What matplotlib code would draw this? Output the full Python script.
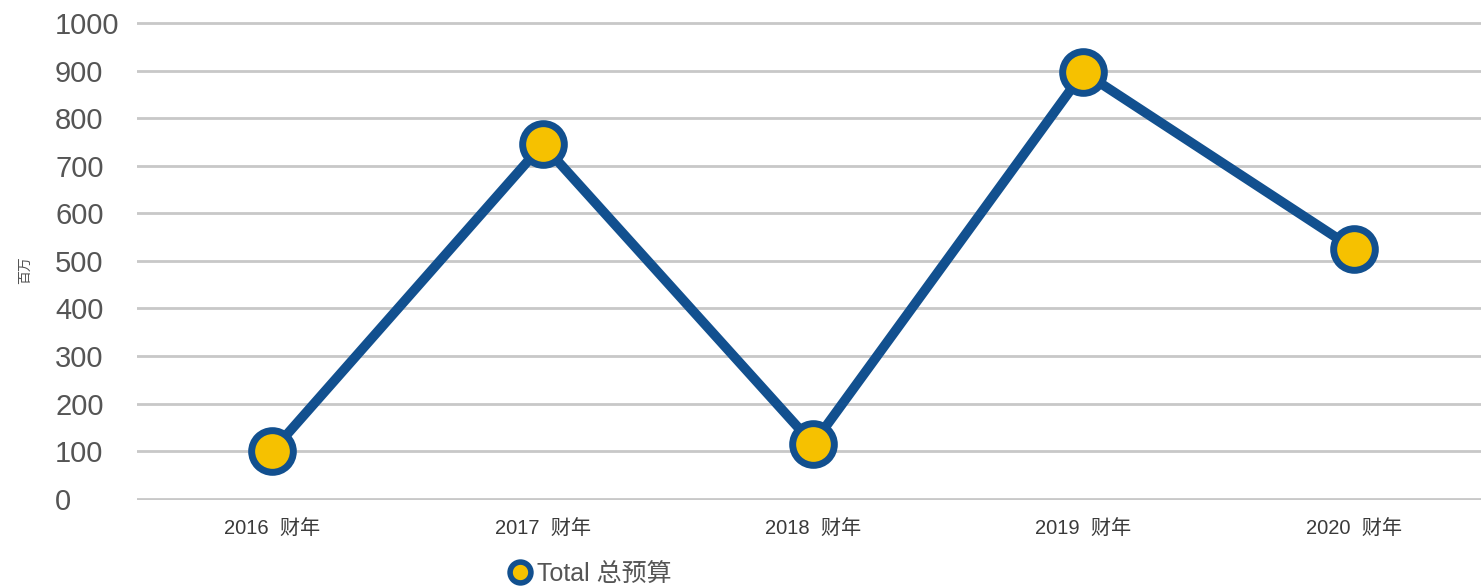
import matplotlib
matplotlib.use('Agg')
import matplotlib.pyplot as plt

plt.rcParams['font.family'] = ['Liberation Sans', 'Noto Sans CJK SC', 'DejaVu Sans']

# 数据：
years = ['2016  财年', '2017  财年', '2018  财年', '2019  财年', '2020  财年']
total_budget = [100, 745, 115, 897, 525]
y_ticks = [0, 100, 200, 300, 400, 500, 600, 700, 800, 900, 1000]

line_color = '#12508f'
dot_color = '#f6c100'

fig = plt.figure(figsize=(14.81, 5.87), dpi=100)
# 坐标轴区域(稍微上下留一点，使 0 和 1000 的网格线不被截断)：
ax = fig.add_axes([0.0925, 0.148, 0.913, 0.815])

x = list(range(len(years)))
ax.plot(x, total_budget, color=line_color, linewidth=7, marker='o', markersize=30,
        markerfacecolor=dot_color, markeredgecolor=line_color, markeredgewidth=5,
        label='Total 总预算', zorder=3)

ax.set_xlim(-0.5, len(years) - 0.5)
ax.set_ylim(-3, 1003)
ax.set_yticks(y_ticks)
ax.set_xticks(x)
ax.set_xticklabels(years, fontsize=14.5, color='#3a3a3a')
# pad 的单位是 pt，82 px ≈ 59 pt
ax.tick_params(axis='y', labelsize=21, labelcolor='#555555', length=0, pad=59)
for lbl in ax.get_yticklabels():
    lbl.set_horizontalalignment('left')
ax.tick_params(axis='x', length=0, pad=14)

# 网格线：
ax.grid(axis='y', color='#c8c8c8', linewidth=2)
ax.set_axisbelow(True)
for s in ax.spines.values():
    s.set_visible(False)

fig.text(0.012, 0.54, '百万', rotation=90, fontsize=10, color='#555555', va='center')

# 图例：
leg = fig.legend(loc='center left', bbox_to_anchor=(0.339, 0.022), frameon=False,
                 handlelength=0.45, handletextpad=0.45, fontsize=18, markerscale=0.5,
                 borderpad=0)
leg.get_lines()[0].set_linewidth(0)
leg.get_lines()[0].set_markeredgewidth(4)
for t in leg.get_texts():
    t.set_color('#555555')

fig.savefig('out.png', dpi=100)
